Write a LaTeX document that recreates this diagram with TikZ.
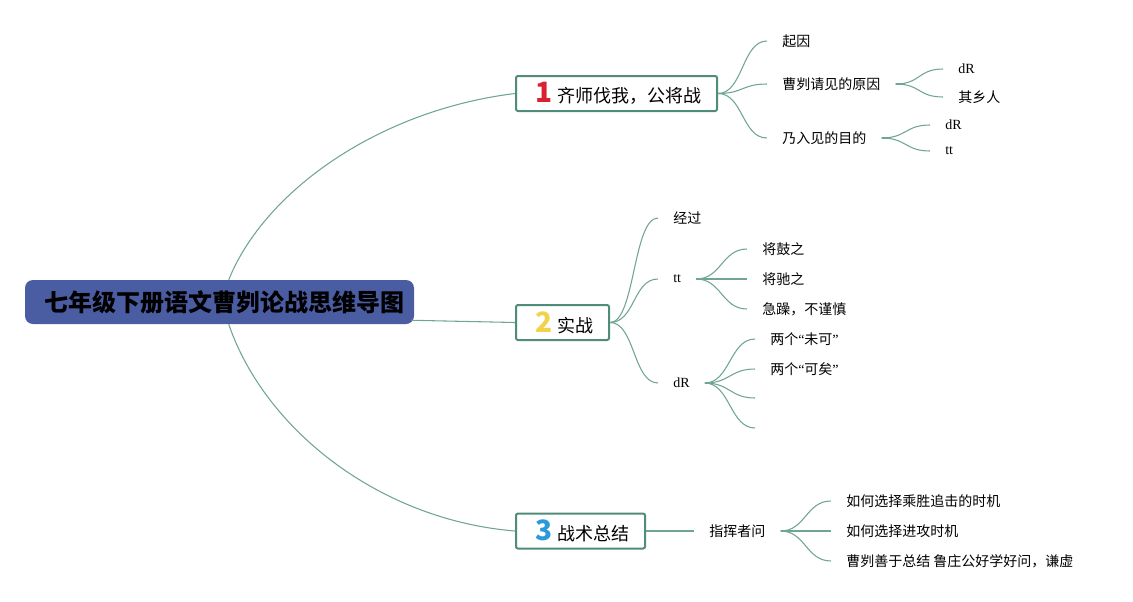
\documentclass[tikz,border=0pt]{standalone}
\usepackage{fontspec}
\setmainfont{Noto Sans CJK SC}
\newfontfamily\lat{Liberation Serif}
\usetikzlibrary{calc}
\definecolor{lnk}{HTML}{6FA592}
\definecolor{bord}{HTML}{4F8C79}
\definecolor{rootfill}{HTML}{4A5DA3}
\definecolor{numred}{HTML}{D8222F}
\definecolor{numyel}{HTML}{F2D24A}
\definecolor{numblu}{HTML}{2A9AD8}
\tikzset{
  leaf/.style={anchor=west, inner xsep=11.25pt, inner ysep=0pt, font=\fontsize{10.5pt}{12pt}\selectfont},
  branch/.style={draw=bord, line width=1.5pt, fill=white, rounded corners=1.5pt, inner xsep=0pt, inner ysep=0pt, minimum height=26.25pt, font=\fontsize{13.5pt}{16pt}\selectfont, anchor=west},
  rootbox/.style={fill=rootfill, rounded corners=6pt, minimum width=291.75pt, minimum height=33pt, inner sep=0pt, font=\fontsize{18pt}{22pt}\selectfont\bfseries},
  link/.style={draw=lnk, line width=0.8pt},
  stub/.style={draw=lnk, line width=1.8pt},
}
\newcommand\bnum[2]{\kern14.25pt{\color{#1}\fontsize{21pt}{21pt}\selectfont\bfseries #2}\kern3.75pt}
\begin{document}
\begin{tikzpicture}[x=0.75pt,y=-0.75pt]
\useasboundingbox (0,0) rectangle (1133,601);
% root
\node[rootbox] (root) at (219.5,302) {\kern8pt七年级下册语文曹刿论战思维导图};
% branches
\node[branch] (b1) at (515,93.5) {\bnum{numred}{1}齐师伐我，公将战\kern12pt};
\node[branch] (b2) at (515,322.5) {\bnum{numyel}{2}实战\kern12pt};
\node[branch] (b3) at (515,531) {\bnum{numblu}{3}战术总结\kern12pt};
% root connectors
\draw[link] ($(root.north west)+(204,0)$) .. controls (265,190) and (380,110) .. (b1.west);
\draw[link] ($(root.south east)+(-3,-4)$) -- (b2.west);
\draw[link] ($(root.south west)+(204,0)$) .. controls (265,430) and (380,520) .. (b3.west);
% branch 1
\node[leaf] (c11) at (767,41) {起因};
\node[leaf] (c12) at (767,84) {曹刿请见的原因};
\node[leaf] (c13) at (767,138) {乃入见的目的};
\foreach \c in {c11,c12,c13}
  \draw[link] (b1.east) .. controls +(25,0) and +(-25,0) .. (\c.west);
\node[leaf] (c121) at (943,69) {\lat dR};
\node[leaf] (c122) at (943,97) {其乡人};
\foreach \c in {c121,c122}
  \draw[link] (c12.east) .. controls +(25,0) and +(-25,0) .. (\c.west);
\draw[stub] (c12.east) -- ++(9,0);
\node[leaf] (c131) at (930,125) {\lat dR};
\node[leaf] (c132) at (930,151) {\lat tt};
\foreach \c in {c131,c132}
  \draw[link] (c13.east) .. controls +(25,0) and +(-25,0) .. (\c.west);
\draw[stub] (c13.east) -- ++(9,0);
% branch 2
\node[leaf] (c21) at (658,218) {经过};
\node[leaf] (c22) at (658,279) {\lat tt};
\node[leaf] (c23) at (658,383) {\lat dR};
\foreach \c in {c21,c22,c23}
  \draw[link] (b2.east) .. controls +(25,0) and +(-25,0) .. (\c.west);
\node[leaf] (c221) at (747,249) {将鼓之};
\node[leaf] (c222) at (747,279) {将驰之};
\node[leaf] (c223) at (747,309) {急躁，不谨慎};
\foreach \c in {c221,c222,c223}
  \draw[link] (c22.east) .. controls +(25,0) and +(-25,0) .. (\c.west);
\draw[stub] (c22.east) -- ++(9,0);
\node[leaf] (c231) at (755,339) {两个{\lat“}未可{\lat”}};
\node[leaf] (c232) at (755,369) {两个{\lat“}可矣{\lat”}};
\coordinate (c233) at (755,398);
\coordinate (c234) at (755,428);
\foreach \c in {c231,c232}
  \draw[link] (c23.east) .. controls +(25,0) and +(-25,0) .. (\c.west);
\foreach \c in {c233,c234}
  \draw[link] (c23.east) .. controls +(25,0) and +(-25,0) .. (\c);
\draw[stub] (c23.east) -- ++(9,0);
% branch 3
\node[leaf] (c31) at (694,531) {指挥者问};
\draw[link] (b3.east) -- (c31.west);
\node[leaf] (c311) at (831,501) {如何选择乘胜追击的时机};
\node[leaf] (c312) at (831,531) {如何选择进攻时机};
\node[leaf] (c313) at (831,561) {曹刿善于总结 鲁庄公好学好问，谦虚};
\foreach \c in {c311,c312,c313}
  \draw[link] (c31.east) .. controls +(25,0) and +(-25,0) .. (\c.west);
\draw[stub] (c31.east) -- ++(9,0);
\end{tikzpicture}
\end{document}
